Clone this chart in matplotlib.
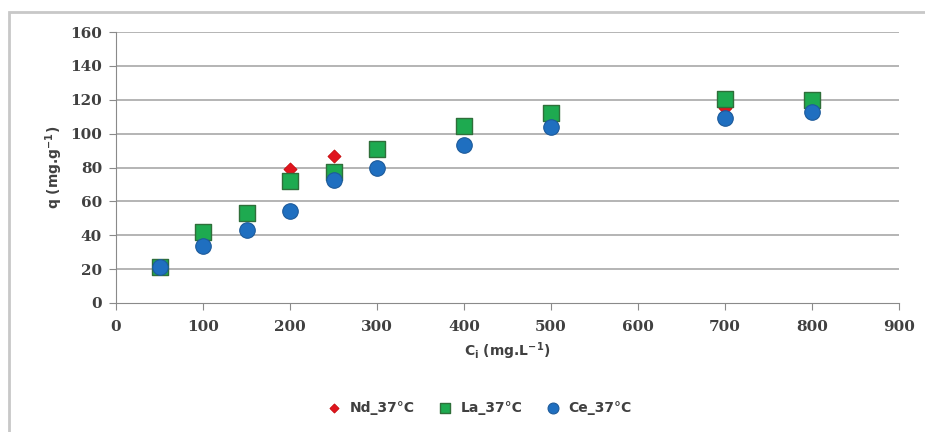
import matplotlib
matplotlib.use('Agg')
import matplotlib.pyplot as plt
from matplotlib.patches import Rectangle

conc = [50, 100, 150, 200, 250, 300, 400, 500, 700, 800]
nd_37 = [22, 39, 53, 79, 87, 91, 104, 110, 115, 119]
la_37 = [21.5, 42, 53, 72, 77.5, 91, 104.5, 112, 120.5, 120]
ce_37 = [21.5, 33.5, 43, 54.5, 72.5, 79.5, 93.5, 104, 109.5, 113]

xticks = list(range(0, 1000, 100))
yticks = list(range(0, 180, 20))

W, H = 925, 432
fig = plt.figure(figsize=(W / 100, H / 100), dpi=100)
fig.patch.set_facecolor('white')

# chart-area frame
fig.add_artist(Rectangle((9 / W, -0.05), 1.0, (H - 12) / H + 0.05,
                         transform=fig.transFigure, fill=False,
                         edgecolor='#c8c8c8', linewidth=2))

ax = fig.add_axes([116 / W, 1 - 303 / H, (899 - 116) / W, (303 - 32) / H])
ax.set_xlim(0, 900)
ax.set_ylim(0, 160)
ax.set_xticks(xticks)
ax.set_yticks(yticks)

tick_font = dict(family='DejaVu Serif', weight='bold', size=11, color='#404040')
ax.set_xticklabels([str(t) for t in xticks], **tick_font)
ax.set_yticklabels([str(t) for t in yticks], **tick_font)

for y in yticks[1:]:
    ax.axhline(y, color='#a0a0a0', linewidth=1.1, zorder=0)

for side in ['top', 'right']:
    ax.spines[side].set_visible(False)
for side in ['left', 'bottom']:
    ax.spines[side].set_color('#8a8a8a')
ax.tick_params(axis='both', direction='out', length=5, color='#8a8a8a', pad=5)
ax.tick_params(axis='x', pad=7)

ax.scatter(conc, nd_37, marker='D', s=45, color='#e0141e', edgecolor='#c00000',
           linewidth=0.5, label='Nd_37°C', zorder=3)
ax.scatter(conc, la_37, marker='s', s=120, color='#1eaa50', edgecolor='#2f6f3a',
           linewidth=1.0, label='La_37°C', zorder=4)
ax.scatter(conc, ce_37, marker='o', s=125, color='#1f6fc0', edgecolor='#1d5a9a',
           linewidth=0.8, label='Ce_37°C', zorder=5)

ax.set_xlabel('C$_\\mathregular{i}$ (mg.L$^\\mathregular{-1}$)', fontsize=10,
              fontweight='bold', color='#404040', labelpad=5)
ax.set_ylabel('q (mg.g$^\\mathregular{-1}$)', fontsize=10, fontweight='bold',
              color='#404040', labelpad=4)

leg = fig.legend(loc='center', bbox_to_anchor=(476 / W, 1 - 408 / H), ncol=3,
                 frameon=False, handletextpad=0.1, columnspacing=1.2,
                 markerscale=0.7, prop=dict(weight='bold', size=10))
for t in leg.get_texts():
    t.set_color('#404040')

fig.savefig('out.png', dpi=100)
